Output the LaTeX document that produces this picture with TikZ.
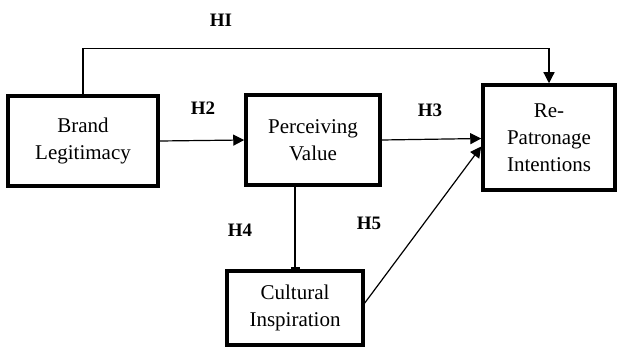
\documentclass[tikz,border=0pt]{standalone}
\usepackage{fontspec}
\setmainfont{Liberation Serif}
\usetikzlibrary{arrows.meta}

\begin{document}
\begin{tikzpicture}[x=1pt,y=1pt,
  box/.style={draw, line width=3.5pt, align=center, inner sep=0pt,
    font=\fontsize{21}{27}\selectfont},
  hyp/.style={font=\fontsize{19}{22}\selectfont\bfseries},
  arr/.style={line width=1.2pt, -{Triangle[length=11pt,width=11pt]}}]
  % canvas
  \useasboundingbox (0,0) rectangle (618,-347);

  % the four constructs
  \node[box, minimum width=150pt, minimum height=90pt] (brand) at (83,-141) {Brand\\Legitimacy};
  \node[box, minimum width=134pt, minimum height=90pt] (perc) at (313,-140) {Perceiving\\Value};
  \node[box, minimum width=132pt, minimum height=105pt] (repat) at (549,-137.5) {Re-\\Patronage\\Intentions};
  \node[box, minimum width=136pt, minimum height=74pt] (cult) at (295,-308) {Cultural\\Inspiration};

  % paths
  \draw[arr] (brand.north) -- ++(0,46) -| (repat.north);
  \draw[arr] (brand.east) -- (perc.west);
  \draw[arr] (perc.east) -- ([yshift=-1pt]repat.west);
  \draw[line width=1.2pt, -{Bar[width=9pt,line width=2pt]}] (cult.north |- perc.south) -- (cult.north);
  \draw[arr] ([yshift=5pt]cult.east) -- ([yshift=-9pt]repat.west);

  % hypothesis labels
  \node[hyp] (h1) at (221,-20) {HI};
  \node[hyp] (h2) at (203,-108) {H2};
  \node[hyp] (h3) at (430,-110) {H3};
  \node[hyp] (h4) at (240,-230) {H4};
  \node[hyp] (h5) at (369,-223) {H5};
\end{tikzpicture}
\end{document}
